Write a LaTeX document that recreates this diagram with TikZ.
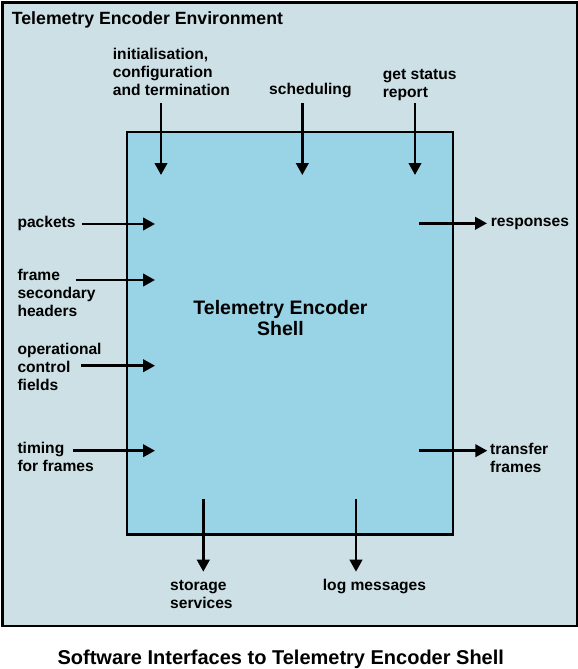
\documentclass[tikz,border=0pt]{standalone}
\usepackage{fontspec}
\setmainfont{Liberation Sans}
\usetikzlibrary{arrows.meta}
\definecolor{envfill}{RGB}{204,224,230}
\definecolor{shellfill}{RGB}{153,211,230}
\begin{document}
\begin{tikzpicture}[x=1pt,y=-1pt,
  lbl/.style={font=\fontsize{15.6}{17.8}\selectfont\bfseries, inner sep=0pt, align=left, anchor=base west},
  flow/.style={line width=2.5pt, -{Triangle[length=12pt,width=12.5pt]}},
  box/.style={draw, line width=2.5pt, inner sep=0pt, anchor=north west}]
\useasboundingbox (0,0) rectangle (578,669);
\fill[white] (0,0) rectangle (578,669);
% boxes
\node[box, fill=envfill, minimum width=574.2pt, minimum height=623.5pt] (env) at (1.3,1.3) {};
\node[box, fill=shellfill, minimum width=326pt, minimum height=402.5pt] (shell) at (125.5,130.5) {};
% titles (base anchor = baseline of the last line)
\node[font=\fontsize{17.7}{20}\selectfont\bfseries, inner sep=0pt, anchor=base west] (envtitle) at (11.7,25) {Telemetry Encoder Environment};
\node[font=\fontsize{19.5}{21}\selectfont\bfseries, inner sep=0pt, align=center, anchor=base] (shelltitle) at (280.5,335) {Telemetry Encoder\\Shell};
\node[font=\fontsize{20}{22}\selectfont\bfseries, inner sep=0pt, anchor=base] (caption) at (280.8,664.3) {Software Interfaces to Telemetry Encoder Shell};
% labels
\node[lbl] (linit) at (112.7,95.4) {initialisation,\\configuration\\and termination};
\node[lbl] (lsched) at (269,94.3) {scheduling};
\node[lbl] (lstatus) at (382.7,97.7) {get status\\report};
\node[lbl] (lpackets) at (17.3,227.7) {packets};
\node[lbl] (lframe) at (17.3,316) {frame\\secondary\\headers};
\node[lbl] (locf) at (17.3,390) {operational\\control\\fields};
\node[lbl] (ltiming) at (17.3,471) {timing\\for frames};
\node[lbl] (lresp) at (490.7,226.7) {responses};
\node[lbl] (ltransfer) at (490,472.3) {transfer\\frames};
\node[lbl] (lstorage) at (170,608) {storage\\services};
\node[lbl] (llog) at (322.7,590.7) {log messages};
% arrow end points
\coordinate (a1s) at (161,103);   \coordinate (a1e) at (161,175);
\coordinate (a2s) at (302.3,103); \coordinate (a2e) at (302.3,175);
\coordinate (a3s) at (415,103);   \coordinate (a3e) at (415,175);
\coordinate (b1s) at (82,224);    \coordinate (b1e) at (155,224);
\coordinate (b2s) at (75.7,280);  \coordinate (b2e) at (155,280);
\coordinate (b3s) at (81,365.7);  \coordinate (b3e) at (155,365.7);
\coordinate (b4s) at (72.7,450.7);\coordinate (b4e) at (155,450.7);
\coordinate (c1s) at (419,223.3); \coordinate (c1e) at (487,223.3);
\coordinate (c2s) at (419.3,450.7);\coordinate (c2e) at (487.3,450.7);
\coordinate (d1s) at (203.3,499); \coordinate (d1e) at (203.3,571.7);
\coordinate (d2s) at (356,499);   \coordinate (d2e) at (356,571.7);
% arrows
\draw[flow] (a1s) -- (a1e);
\draw[flow] (a2s) -- (a2e);
\draw[flow] (a3s) -- (a3e);
\draw[flow] (b1s) -- (b1e);
\draw[flow] (b2s) -- (b2e);
\draw[flow] (b3s) -- (b3e);
\draw[flow] (b4s) -- (b4e);
\draw[flow] (c1s) -- (c1e);
\draw[flow] (c2s) -- (c2e);
\draw[flow] (d1s) -- (d1e);
\draw[flow] (d2s) -- (d2e);
\end{tikzpicture}
\end{document}
